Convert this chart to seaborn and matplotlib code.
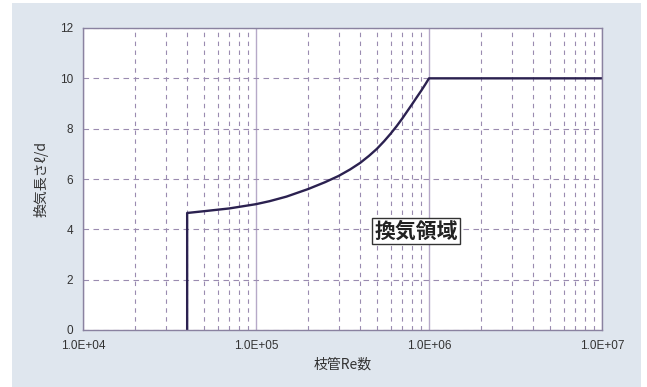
import numpy as np
import matplotlib.pyplot as plt
import matplotlib.ticker as mticker
from matplotlib.patches import Rectangle
import seaborn as sns

# curve values
re_values = [4.0e4, 4.0e4, 5.0e4, 7.0e4, 1.0e5, 1.2e5, 1.5e5, 2.0e5, 2.5e5,
             3.0e5, 3.5e5, 4.0e5, 4.5e5, 5.0e5, 5.5e5, 6.0e5, 6.5e5, 7.0e5,
             7.5e5, 8.0e5, 8.5e5, 9.0e5, 9.5e5, 1.0e6, 1.0e7]
ld_values = [0.0, 4.65, 4.72, 4.83, 5.0, 5.12, 5.3, 5.6, 5.87,
             6.12, 6.38, 6.64, 6.92, 7.2, 7.5, 7.8, 8.1, 8.4,
             8.7, 8.98, 9.25, 9.5, 9.75, 10.0, 10.0]
x_ticks = [1e4, 1e5, 1e6, 1e7]
x_tick_labels = ['1.0E+04', '1.0E+05', '1.0E+06', '1.0E+07']
y_ticks = [0, 2, 4, 6, 8, 10, 12]

sns.set_style('white')
plt.rcParams['font.family'] = ['Noto Sans CJK JP', 'DejaVu Sans']

bg = '#dfe6ee'
grid_col = '#9a8bb0'
line_col = '#2b2150'

fig = plt.figure(figsize=(6.47, 3.87), dpi=100, facecolor='white')
fig.patches.append(Rectangle((12 / 647, 0), 629 / 647, 384 / 387,
                             transform=fig.transFigure, facecolor=bg,
                             edgecolor='none', zorder=-10))
ax = fig.add_axes([83 / 647, 57 / 387, 519 / 647, 302 / 387])
ax.set_facecolor('white')

sns.lineplot(x=re_values, y=ld_values, ax=ax, color=line_col, linewidth=1.7,
             sort=False, estimator=None)

ax.set_xscale('log')
ax.set_xlim(1e4, 1e7)
ax.set_ylim(0, 12)
ax.set_xticks(x_ticks)
ax.set_xticklabels(x_tick_labels)
ax.xaxis.set_minor_locator(mticker.LogLocator(base=10, subs=np.arange(2, 10)))
ax.xaxis.set_minor_formatter(mticker.NullFormatter())
ax.set_yticks(y_ticks)
ax.tick_params(axis='both', which='both', length=0, labelsize=8.5, colors='#333333', pad=7)
for lbl in ax.get_xticklabels() + ax.get_yticklabels():
    lbl.set_family(['Liberation Sans', 'DejaVu Sans'])

ax.grid(True, which='major', axis='x', color='#b6a9c8', linestyle='-', linewidth=1.0)
ax.grid(True, which='minor', axis='x', color=grid_col, linestyle=(0, (4, 4)), linewidth=0.8)
ax.grid(True, which='major', axis='y', color=grid_col, linestyle=(0, (5, 4)), linewidth=0.8)
ax.set_axisbelow(True)

for s in ax.spines.values():
    s.set_color('#8a82a0')
    s.set_linewidth(1.0)

ax.set_xlabel('枝管Re数', fontsize=10, color='#333333', labelpad=4)
ax.set_ylabel('換気長さℓ/d', fontsize=10, color='#333333', labelpad=8)

ax.text(8.4e5, 3.93, '換気領域', fontsize=15, fontweight='bold', color='#222222',
        ha='center', va='center',
        bbox=dict(boxstyle='square,pad=0.12', facecolor='white', edgecolor='#333333', linewidth=1.0))

fig.savefig('out.png', dpi=100, facecolor=fig.get_facecolor())
